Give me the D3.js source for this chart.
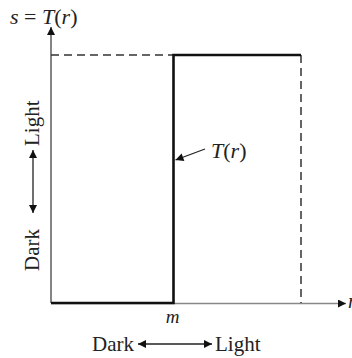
<!DOCTYPE html>
<html>
<head>
<meta charset="utf-8">
<script src="https://cdn.jsdelivr.net/npm/d3@7"></script>
<style>
  body { margin: 0; background: #fff; }
  text { font-family: "Liberation Serif", "DejaVu Serif", serif; fill: #222; }
</style>
</head>
<body>
<script>
/*** data ***/
const rRange = [0, 1];            // input gray level r, normalised
const sRange = [0, 1];            // output gray level s
const m = 0.49;                   // threshold
const transformPts = [[0, 0], [m, 0], [m, 1], [1, 1]];   // T(r): thresholding function
const guideTop = [[0, 1], [m, 1]];
const guideRight = [[1, 1], [1, 0]];
const tickLabels = ["m"];
const axisWords = ["Dark", "Light"];

/*** sizes ***/
const width = 352, height = 358;
const x = d3.scaleLinear().domain(rRange).range([51, 301]);
const y = d3.scaleLinear().domain(sRange).range([303, 55]);

const svg = d3.select("body").append("svg")
  .attr("width", width).attr("height", height);

const defs = svg.append("defs");
defs.append("marker")
    .attr("id", "head")
    .attr("viewBox", "0 0 10 10")
    .attr("refX", 10).attr("refY", 5)
    .attr("markerWidth", 10).attr("markerHeight", 8)
    .attr("markerUnits", "userSpaceOnUse")
    .attr("orient", "auto-start-reverse")
  .append("path")
    .attr("d", "M0,0L10,5L0,10z")
    .attr("fill", "#111");

const line = d3.line().x(d => x(d[0])).y(d => y(d[1]));

// axes (gray, arrowed)
svg.append("line")
  .attr("x1", x(0)).attr("y1", y(0))
  .attr("x2", x(0)).attr("y2", 27)
  .attr("stroke", "#666").attr("stroke-width", 1.6)
  .attr("marker-end", "url(#head)");
svg.append("line")
  .attr("x1", x(0)).attr("y1", y(0) + 0.5)
  .attr("x2", 346).attr("y2", y(0) + 0.5)
  .attr("stroke", "#888").attr("stroke-width", 1.6)
  .attr("marker-end", "url(#head)");

// dashed guides
[guideTop, guideRight].forEach(g => {
  svg.append("path")
    .attr("d", line(g))
    .attr("fill", "none")
    .attr("stroke", "#333")
    .attr("stroke-width", 1.5)
    .attr("stroke-dasharray", "8,5");
});

// T(r)
svg.append("path")
  .attr("d", line(transformPts))
  .attr("fill", "none")
  .attr("stroke", "#111")
  .attr("stroke-width", 2.6)
  .attr("stroke-linejoin", "miter");

// T(r) label with pointer
svg.append("line")
  .attr("x1", 205).attr("y1", 149)
  .attr("x2", x(m) + 2).attr("y2", 160)
  .attr("stroke", "#222").attr("stroke-width", 1.3)
  .attr("marker-end", "url(#head)");
const tl = svg.append("text")
  .attr("x", 211).attr("y", 158)
  .attr("font-size", 22).attr("font-style", "italic");
tl.append("tspan").text("T");
tl.append("tspan").attr("font-style", "normal").text("(");
tl.append("tspan").text("r");
tl.append("tspan").attr("font-style", "normal").text(")");

// y label s = T(r)
const yl = svg.append("text")
  .attr("x", 10).attr("y", 24)
  .attr("font-size", 22).attr("font-style", "italic");
yl.append("tspan").text("s");
yl.append("tspan").attr("font-style", "normal").text(" = ");
yl.append("tspan").text("T");
yl.append("tspan").attr("font-style", "normal").text("(");
yl.append("tspan").text("r");
yl.append("tspan").attr("font-style", "normal").text(")");

// x axis letter (cut off at edge, as in the reference)
svg.append("text")
  .attr("x", 348).attr("y", 308)
  .attr("font-size", 20).attr("font-style", "italic")
  .text("r");

// tick label m
svg.append("text")
  .attr("x", x(m) - 1).attr("y", 323)
  .attr("text-anchor", "middle")
  .attr("font-size", 19).attr("font-style", "italic")
  .text(tickLabels[0]);

// bottom Dark <-> Light
svg.append("text")
  .attr("x", 134).attr("y", 351)
  .attr("text-anchor", "end").attr("font-size", 21)
  .text(axisWords[0]);
svg.append("line")
  .attr("x1", 138).attr("y1", 344).attr("x2", 212).attr("y2", 344)
  .attr("stroke", "#222").attr("stroke-width", 1.3)
  .attr("marker-start", "url(#head)").attr("marker-end", "url(#head)");
svg.append("text")
  .attr("x", 215).attr("y", 351)
  .attr("font-size", 21)
  .text(axisWords[1]);

// left Dark <-> Light (rotated)
const left = svg.append("g").attr("transform", "translate(39,0) rotate(-90)");
left.append("text")
  .attr("x", -271).attr("y", 0)
  .attr("font-size", 21)
  .text(axisWords[0]);
left.append("line")
  .attr("x1", -213).attr("y1", -6).attr("x2", -150).attr("y2", -6)
  .attr("stroke", "#222").attr("stroke-width", 1.3)
  .attr("marker-start", "url(#head)").attr("marker-end", "url(#head)");
left.append("text")
  .attr("x", -146).attr("y", 0)
  .attr("font-size", 21)
  .text(axisWords[1]);
</script>
</body>
</html>
